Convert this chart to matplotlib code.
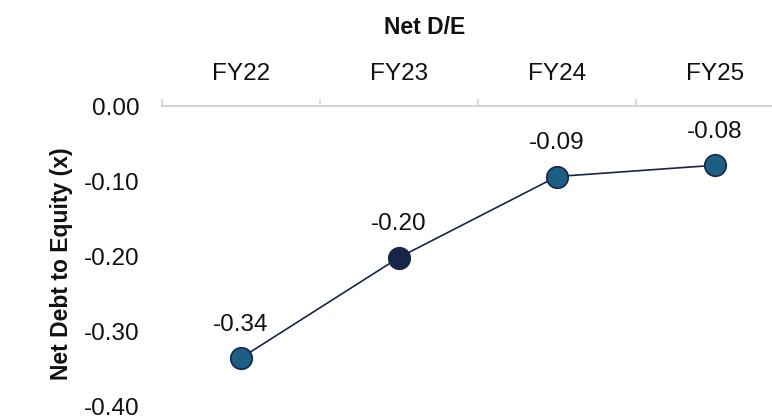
import matplotlib
matplotlib.use("Agg")
import matplotlib.pyplot as plt
from matplotlib.ticker import FixedLocator

years = ["FY22", "FY23", "FY24", "FY25"]
net_de = [-0.336, -0.202, -0.094, -0.079]
labels = ["-0.34", "-0.20", "-0.09", "-0.08"]
yticks = [0.0, -0.1, -0.2, -0.3, -0.4]
ytick_labels = ["0.00", "-0.10", "-0.20", "-0.30", "-0.40"]

teal = "#1d5f82"
navy = "#17254a"
marker_colors = [teal, navy, teal, teal]

plt.rcParams["font.family"] = ["Liberation Sans", "DejaVu Sans"]

fig = plt.figure(figsize=(7.72, 4.19), dpi=100)
ax = fig.add_axes([162 / 772, 1 - 406 / 419, 632 / 772, 300 / 419])

x = list(range(len(years)))
ax.plot(x, net_de, color=navy, lw=1.2, zorder=2, clip_on=False)
for xi, v, c, lab in zip(x, net_de, marker_colors, labels):
    ax.plot(xi, v, "o", ms=15.5, mfc=c, mec=navy, mew=1.2, zorder=3, clip_on=False)
    ax.annotate(lab, (xi, v), xytext=(0, 24), textcoords="offset points",
                ha="center", va="center", fontsize=17.5, color="#111111")

ax.set_xlim(-0.5, 3.5)
ax.set_ylim(-0.40, 0.0)

ax.xaxis.tick_top()
ax.set_xticks(x)
ax.set_xticklabels(years, fontsize=17.5, color="#111111")
ax.xaxis.set_minor_locator(FixedLocator([-0.5, 0.5, 1.5, 2.5, 3.5]))
ax.tick_params(axis="x", which="major", length=0, pad=15)
ax.tick_params(axis="x", which="minor", length=5, width=1.2, color="#d4d4d4", direction="out")

ax.set_yticks(yticks)
ax.set_yticklabels(ytick_labels, fontsize=17.5, color="#111111")
ax.tick_params(axis="y", length=0, pad=16)

for s in ["left", "right", "bottom"]:
    ax.spines[s].set_visible(False)
ax.spines["top"].set_color("#d4d4d4")
ax.spines["top"].set_linewidth(1.5)

fig.text(62 / 772, 1 - 264 / 419, "Net Debt to Equity (x)", rotation=90,
         ha="center", va="center", fontsize=16.5, fontweight="bold", color="#111111")
fig.text(425 / 772, 1 - 28 / 419, "Net D/E", ha="center", va="center",
         fontsize=16.5, fontweight="bold", color="#111111")

fig.savefig("out.png", dpi=100)
